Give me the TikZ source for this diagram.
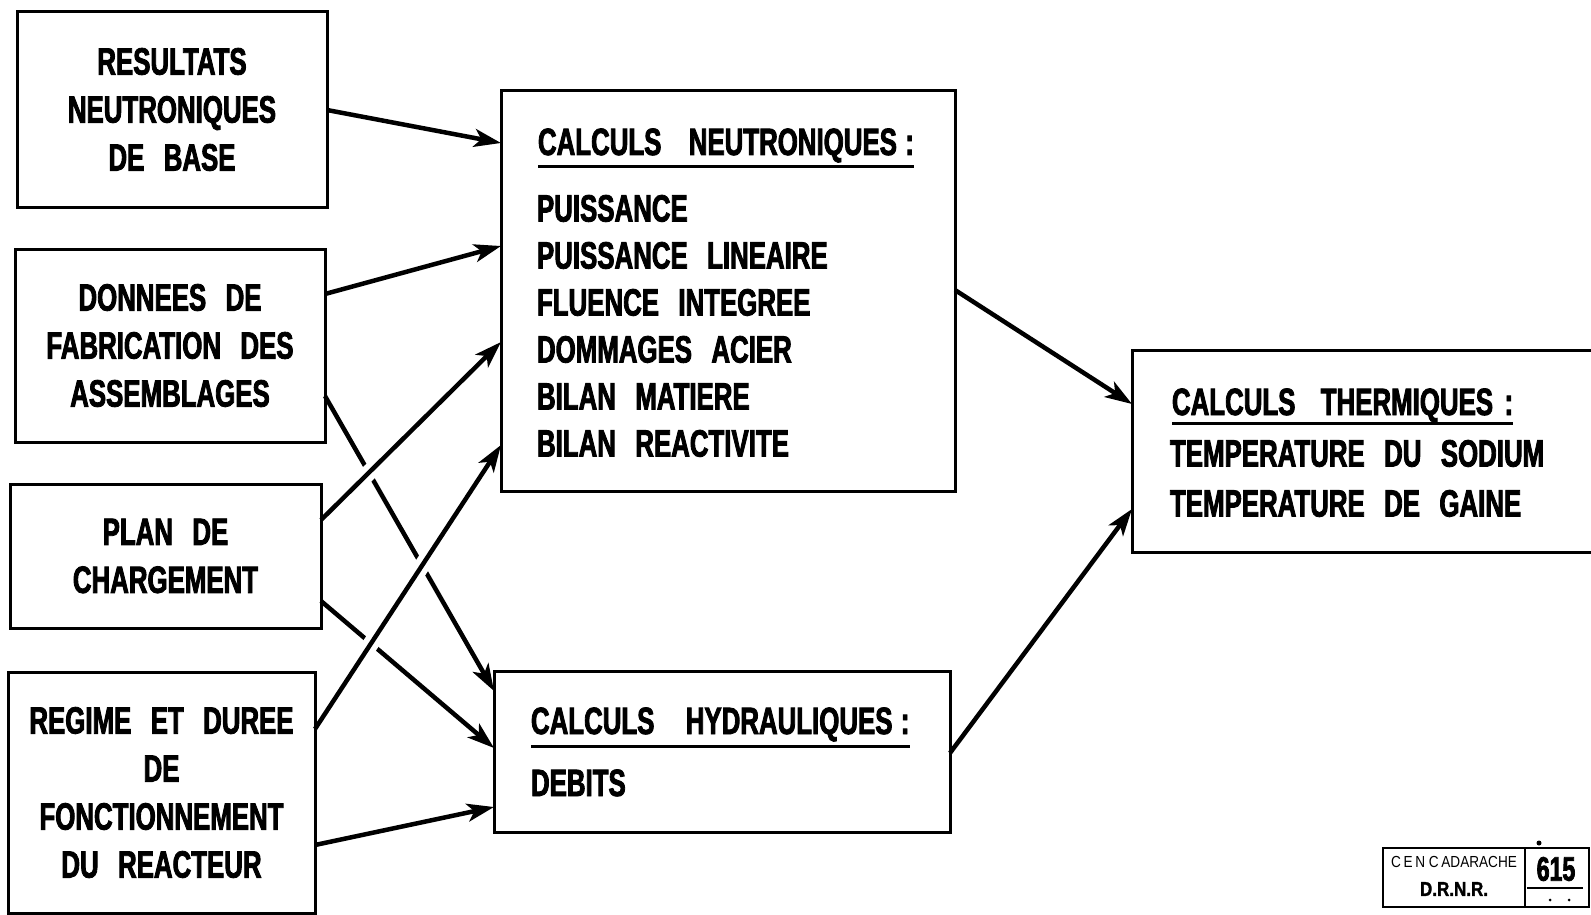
\documentclass[tikz,border=0pt]{standalone}
\usepackage{fontspec}
\setmainfont{Liberation Sans}[FakeStretch=0.68,WordSpace=2.7,BoldFeatures={FakeBold=2.2}]
\newfontfamily\stampfont{Liberation Sans}[FakeStretch=0.85,BoldFeatures={FakeBold=1.5}]
\usetikzlibrary{arrows.meta,calc}
\begin{document}
\begin{tikzpicture}[x=1pt,y=-1pt,
  every node/.style={inner sep=0pt,outer sep=0pt},
  box/.style={draw,line width=3pt,align=center,font=\fontsize{38}{48}\selectfont\bfseries},
  txt/.style={align=left,font=\fontsize{38}{47}\selectfont\bfseries},
  ul/.style={line width=3pt},
  arr/.style={line width=4.5pt,-{Stealth[length=27pt,width=18pt,inset=7pt]}},
  halo/.style={preaction={draw=white,line width=16pt,arrows=-,shorten <=28pt,shorten >=45pt}}
]
\useasboundingbox (0,0) rectangle (1591,915);
% input boxes
\node[box,minimum width=310pt,minimum height=195pt] (A) at (172,109.5)
  {RESULTATS\\NEUTRONIQUES\\DE BASE};
\node[box,minimum width=310pt,minimum height=193pt] (B) at (170,345.5)
  {DONNEES DE\\FABRICATION DES\\ASSEMBLAGES};
\node[box,minimum width=311pt,minimum height=144pt] (C) at (165.5,556)
  {PLAN DE\\CHARGEMENT};
\node[box,minimum width=307pt,minimum height=241pt] (D) at (161.5,792.5)
  {REGIME ET DUREE\\DE\\FONCTIONNEMENT\\DU REACTEUR};
% calculation boxes
\node[box,minimum width=454pt,minimum height=400pt] (N) at (728,291) {};
\node[box,minimum width=456pt,minimum height=161pt] (H) at (722,751.5) {};
\node[box,minimum width=480pt,minimum height=202pt] (T) at (1372,451) {};
% texts
\node[txt,anchor=base west] (Nt) at (538,155) {CALCULS \hspace{8pt}NEUTRONIQUES \kern-11pt:};
\draw[ul] ([yshift=-12pt]Nt.base west) -- ([yshift=-12pt]Nt.base east);
\node[txt,anchor=north west] (Nl) at (537,195)
  {PUISSANCE\\PUISSANCE LINEAIRE\\FLUENCE INTEGREE\\DOMMAGES ACIER\\BILAN MATIERE\\BILAN REACTIVITE};
\node[txt,anchor=base west] (Ht) at (531,734) {CALCULS \hspace{12pt}HYDRAULIQUES \kern-11pt:};
\draw[ul] ([yshift=-12pt]Ht.base west) -- ([yshift=-12pt]Ht.base east);
\node[txt,anchor=base west] (Hl) at (531,796) {DEBITS};
\node[txt,anchor=base west] (Tt) at (1172,415) {CALCULS \hspace{6pt}THERMIQUES \kern-8pt:};
\draw[ul] ([yshift=-8pt]Tt.base west) -- ([yshift=-8pt]Tt.base east);
\node[txt,anchor=north west,font=\fontsize{38}{50}\selectfont\bfseries] (Tl) at (1170,440)
  {TEMPERATURE DU SODIUM\\TEMPERATURE DE GAINE};
% connectors (lower ones first, crossing ones drawn over with a white halo)
\draw[arr] ($(A.north east)+(0,98)$) -- ($(N.north west)+(0,52)$);
\draw[arr] ($(B.north east)+(0,45)$) -- ($(N.north west)+(0,155)$);
\draw[arr] ($(B.north east)+(0,147)$) -- ($(H.north west)+(0,20)$);
\draw[arr] ($(C.north east)+(0,117)$) -- ($(H.north west)+(0,77)$);
\draw[arr,halo] ($(C.north east)+(0,36)$) -- ($(N.north west)+(0,251)$);
\draw[arr,halo] ($(D.north east)+(0,57)$) -- ($(N.north west)+(0,354)$);
\draw[arr] ($(D.north east)+(0,173)$) -- ($(H.north west)+(0,136)$);
\draw[arr] ($(N.north east)+(0,199)$) -- ($(T.north west)+(0,54)$);
\draw[arr] ($(H.north east)+(0,82)$) -- ($(T.north west)+(0,159)$);
% stamp
\node[draw,line width=1.5pt,minimum width=206pt,minimum height=59pt] (S) at (1486,877.5) {};
\draw[line width=1.5pt] ($(S.north west)+(142,0)$) -- ($(S.south west)+(142,0)$);
\draw[line width=1.5pt] ($(S.north west)+(144,40)$) -- ($(S.north west)+(200,40)$);
\node[font=\stampfont\fontsize{16}{18}\selectfont] (S1) at (1454,862) {C\,E\,N C\,ADARACHE};
\node[font=\stampfont\fontsize{20}{22}\selectfont\bfseries] (S2) at (1454,889) {D.R.N.R.};
\node[font=\fontsize{34}{36}\selectfont\bfseries] (S3) at (1556,869) {615};
\fill (1539,843) circle (2.5pt);
\fill (1550,900) circle (1.5pt);
\fill (1569,900) circle (1.5pt);
\end{tikzpicture}
\end{document}
